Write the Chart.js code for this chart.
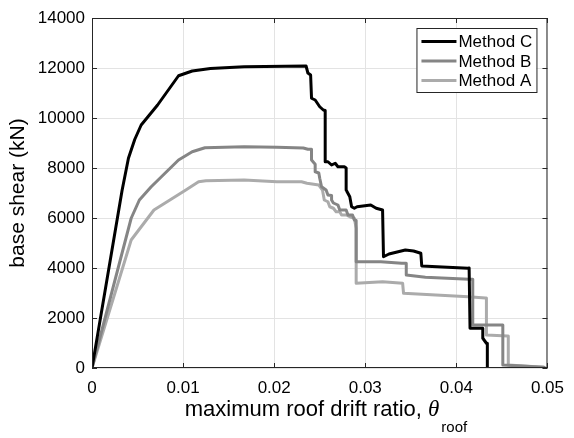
<!DOCTYPE html>
<html>
<head>
<meta charset="utf-8">
<script src="https://cdn.jsdelivr.net/npm/chart.js@4/dist/chart.umd.min.js"></script>
<style>
html,body{margin:0;padding:0;background:#fff;}
#wrap{position:relative;width:574px;height:438px;}
</style>
</head>
<body>
<div id="wrap"><canvas id="c" width="574" height="438"></canvas></div>
<script>
// ---- data ----
const seriesLabels = ['Method C', 'Method B', 'Method A'];
const xTicks = [0, 0.01, 0.02, 0.03, 0.04, 0.05];
const yTicks = [0, 2000, 4000, 6000, 8000, 10000, 12000, 14000];

const driftC = [0,0.0033,0.0040,0.0047,0.0054,0.0072,0.0095,0.0110,0.0130,0.0167,0.0235,0.0237,0.0240,0.0241,0.0245,0.0250,0.0254,0.0256,0.0256,0.0259,0.0263,0.0267,0.0270,0.0277,0.0279,0.0279,0.0283,0.0285,0.0288,0.0291,0.0306,0.0312,0.0319,0.0320,0.0326,0.0344,0.0353,0.0361,0.0362,0.0413,0.0414,0.0415,0.0429,0.0429,0.0433,0.0434,0.0434];
const shearC = [0,7100,8390,9150,9720,10520,11690,11880,11980,12050,12080,11800,11720,10790,10720,10450,10320,10300,8250,8250,8120,8190,8050,8050,8000,7120,6850,6450,6390,6450,6520,6390,6320,4450,4560,4720,4680,4590,4080,3990,4000,1590,1590,1190,990,990,0];

const driftB = [0,0.0043,0.0052,0.0065,0.0095,0.0110,0.0124,0.0167,0.0203,0.0232,0.0237,0.0241,0.0241,0.0245,0.0245,0.0249,0.0250,0.0252,0.0257,0.0259,0.0263,0.0263,0.0265,0.0270,0.0272,0.0279,0.0281,0.0286,0.0288,0.0290,0.0290,0.0317,0.0340,0.0345,0.0345,0.0366,0.0414,0.0418,0.0418,0.0447,0.0451,0.0451,0.0496,0.0497];
const shearB = [0,5990,6720,7250,8320,8650,8810,8850,8830,8800,8750,8750,8320,8150,7850,7800,7590,7250,7120,6920,6900,6720,6600,6520,6320,6320,6120,6120,5920,5900,4250,4250,4190,4190,3720,3630,3550,3550,1720,1720,1720,120,30,0];

const driftA = [0,0.0043,0.0068,0.0103,0.0117,0.0125,0.0167,0.0203,0.0230,0.0236,0.0249,0.0253,0.0255,0.0259,0.0261,0.0265,0.0268,0.0272,0.0274,0.0279,0.0283,0.0288,0.0290,0.0290,0.0319,0.0341,0.0342,0.0413,0.0432,0.0433,0.0433,0.0456,0.0457,0.0457,0.0496,0.0497];
const shearA = [0,5120,6320,7120,7450,7490,7520,7450,7450,7390,7320,7120,6720,6650,6450,6390,6250,6250,6120,6120,6050,5990,5590,3390,3450,3390,2990,2850,2800,2800,1320,1280,1280,120,30,0];

const toPts = (xs, ys) => xs.map((x, i) => ({x: x, y: ys[i]}));

const FONT = '"Liberation Sans", Arial, Helvetica, sans-serif';

const frameTicks = {
  id: 'frameTicks',
  afterDatasetsDraw(chart) {
    const {ctx, chartArea: a, scales} = chart;
    ctx.save();
    ctx.strokeStyle = '#262626';
    ctx.lineWidth = 1;
    ctx.strokeRect(a.left + 0.5, a.top + 0.5, a.right - a.left - 1, a.bottom - a.top - 1);
    const L = 5;
    ctx.beginPath();
    xTicks.forEach(v => {
      const px = Math.round(scales.x.getPixelForValue(v)) + 0.5;
      ctx.moveTo(px, a.bottom); ctx.lineTo(px, a.bottom - L);
      ctx.moveTo(px, a.top); ctx.lineTo(px, a.top + L);
    });
    yTicks.forEach(v => {
      const py = Math.round(scales.y.getPixelForValue(v)) + 0.5;
      ctx.moveTo(a.left, py); ctx.lineTo(a.left + L, py);
      ctx.moveTo(a.right, py); ctx.lineTo(a.right - L, py);
    });
    ctx.stroke();
    ctx.restore();
  }
};

const boxLegend = {
  id: 'boxLegend',
  afterDraw(chart) {
    const {ctx, chartArea: a} = chart;
    const x0 = a.right - 131, y0 = a.top + 10, w = 120, h = 64;
    ctx.save();
    ctx.fillStyle = '#fff';
    ctx.fillRect(x0, y0, w, h);
    ctx.strokeStyle = '#262626';
    ctx.lineWidth = 1;
    ctx.strokeRect(x0 + 0.5, y0 + 0.5, w, h);
    ctx.font = '17px ' + FONT;
    ctx.textBaseline = 'middle';
    ctx.fillStyle = '#000';
    chart.data.datasets.forEach((ds, i) => {
      const y = y0 + 13.5 + i * 19.5;
      ctx.strokeStyle = ds.borderColor;
      ctx.lineWidth = 3;
      ctx.beginPath();
      ctx.moveTo(x0 + 5, y); ctx.lineTo(x0 + 40, y);
      ctx.stroke();
      ctx.fillText(ds.label, x0 + 42, y + 1);
    });
    ctx.restore();
  }
};

const xTitle = {
  id: 'xTitle',
  afterDraw(chart) {
    const {ctx, chartArea: a} = chart;
    const main = 'maximum roof drift ratio, ';
    const th = 'θ';
    const sub = 'roof';
    ctx.save();
    ctx.fillStyle = '#000';
    ctx.textBaseline = 'alphabetic';
    const f1 = '22px ' + FONT, f2 = 'italic 23px "Liberation Serif", "DejaVu Serif", serif', f3 = '15px ' + FONT;
    ctx.font = f1; const w1 = ctx.measureText(main).width;
    ctx.font = f2; const w2 = ctx.measureText(th).width;
    ctx.font = f3; const w3 = ctx.measureText(sub).width;
    const total = w1 + w2 + 2 + w3;
    let x = 326 - total / 2;
    const base = 416;
    ctx.font = f1; ctx.fillText(main, x, base); x += w1;
    ctx.font = f2; ctx.fillText(th, x, base); x += w2 + 2;
    ctx.font = f3; ctx.fillText(sub, x, base + 16);
    ctx.restore();
  }
};

new Chart(document.getElementById('c'), {
  type: 'scatter',
  data: {
    datasets: [
      {label: seriesLabels[0], data: toPts(driftC, shearC), borderColor: '#000000'},
      {label: seriesLabels[1], data: toPts(driftB, shearB), borderColor: '#858585'},
      {label: seriesLabels[2], data: toPts(driftA, shearA), borderColor: '#ababab'}
    ].map(d => Object.assign(d, {showLine: true, pointRadius: 0, borderWidth: 3, tension: 0, fill: false, borderJoinStyle: 'round'}))
  },
  options: {
    responsive: false,
    animation: false,
    events: [],
    layout: {padding: {left: 0, top: 18, right: 20, bottom: 0}},
    plugins: {legend: {display: false}, tooltip: {enabled: false}},
    scales: {
      x: {
        type: 'linear', min: 0, max: 0.05,
        afterFit: s => { s.height = 70; },
        afterBuildTicks: s => { s.ticks = xTicks.map(v => ({value: v})); },
        grid: {color: '#e3e3e3', lineWidth: 1, drawTicks: false},
        border: {display: false},
        ticks: {
          padding: 10, color: '#000', font: {family: FONT, size: 17},
          callback: v => v === 0 ? '0' : String(Number(v.toFixed(2)))
        }
      },
      y: {
        type: 'linear', min: 0, max: 14000,
        afterFit: s => { s.width = 92; },
        afterBuildTicks: s => { s.ticks = yTicks.map(v => ({value: v})); },
        grid: {color: '#e3e3e3', lineWidth: 1, drawTicks: false},
        border: {display: false},
        ticks: {padding: 7, color: '#000', font: {family: FONT, size: 17}, callback: v => String(v)},
        title: {display: true, text: 'base shear (kN)', color: '#000', font: {family: FONT, size: 21}, padding: {top: 6, bottom: 0}}
      }
    }
  },
  plugins: [frameTicks, boxLegend, xTitle]
});
</script>
</body>
</html>
